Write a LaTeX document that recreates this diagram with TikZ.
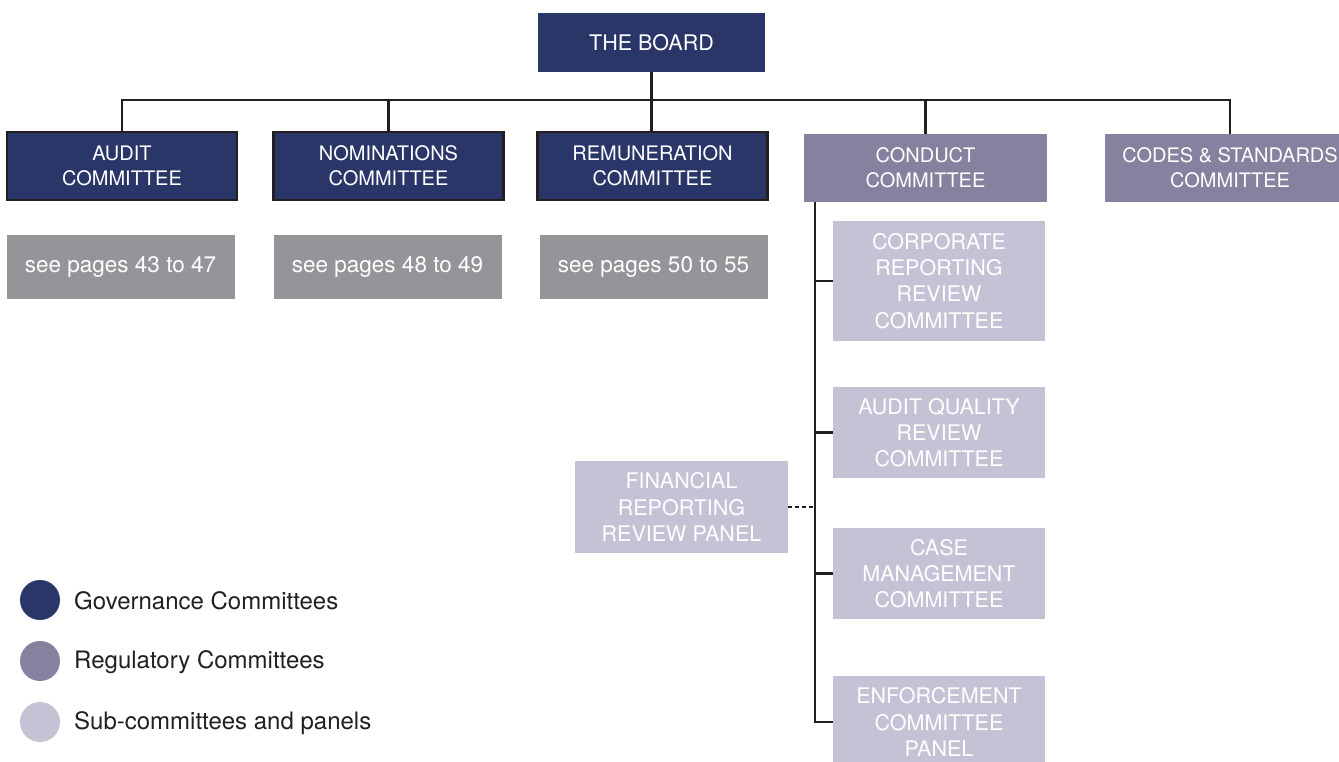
\documentclass[tikz,border=0pt]{standalone}
\usepackage{fontspec}
\setmainfont{TeX Gyre Heros}
\usetikzlibrary{calc}
\definecolor{govblue}{HTML}{2B3668}
\definecolor{regpurple}{HTML}{85819E}
\definecolor{sublilac}{HTML}{C5C2D5}
\definecolor{pagegrey}{HTML}{939598}
\definecolor{inkblack}{HTML}{231F20}
\tikzset{
	box/.style={text=white, align=center, inner sep=0pt, font=\fontsize{20}{25}\selectfont},
	gov/.style={box, fill=govblue, draw=inkblack, line width=2.2pt, minimum width=230, minimum height=68},
	reg/.style={box, fill=regpurple, minimum width=243, minimum height=68},
	sub/.style={box, fill=sublilac, minimum width=212, font=\fontsize{21.5}{26.3}\selectfont},
	pages/.style={box, fill=pagegrey, minimum width=228, minimum height=64, font=\fontsize{22.5}{26}\selectfont},
	link/.style={draw=inkblack, line width=2.4pt},
	key/.style={circle, minimum size=40, inner sep=0pt},
	keytext/.style={anchor=west, text=inkblack, inner sep=0pt, font=\fontsize{24}{28}\selectfont},
}

\begin{document}
\begin{tikzpicture}[x=1pt, y=-1pt]
	%%%%% START %%%%%
	\useasboundingbox (0,0) rectangle (1339,762);
	
	% top
	\node[box, fill=govblue, minimum width=227, minimum height=59, font=\fontsize{21.5}{25}\selectfont] (board) at (651.5,42.5) {THE BOARD};
	
	% committees
	\node[gov] (audit) at (122,166) {AUDIT\\COMMITTEE};
	\node[gov] (nominations) at (388.5,166) {NOMINATIONS\\COMMITTEE};
	\node[gov] (remuneration) at (652.5,166) {REMUNERATION\\COMMITTEE};
	\node[reg] (conduct) at (925.5,168) {CONDUCT\\COMMITTEE};
	\node[reg, minimum width=250] (codes) at (1230,168) {CODES \& STANDARDS\\COMMITTEE};
	
	\node[pages] (pagesA) at (120.5,267) {see pages 43 to 47};
	\node[pages] (pagesB) at (387.5,267) {see pages 48 to 49};
	\node[pages] (pagesC) at (653.5,267) {see pages 50 to 55};
	
	% sub-committees
	\node[sub, minimum height=120] (corporate) at (939,281) {CORPORATE\\REPORTING\\REVIEW\\COMMITTEE};
	\node[sub, minimum height=91] (quality) at (939,432.5) {AUDIT QUALITY\\REVIEW\\COMMITTEE};
	\node[sub, minimum height=92, minimum width=213] (financial) at (681.5,507) {FINANCIAL\\REPORTING\\REVIEW PANEL};
	\node[sub, minimum height=91] (casemgmt) at (939,573.5) {CASE\\MANAGEMENT\\COMMITTEE};
	\node[sub, minimum height=92] (enforcement) at (939,722) {ENFORCEMENT\\COMMITTEE\\PANEL};
	
	% lines
	\coordinate (bus) at (0,100);
	\coordinate (spine) at ($(conduct.south west)+(11,0)$);
	\draw[link] (board.south) -- (board.south |- remuneration.north);
	\draw[link] (audit.north) -- (audit.north |- bus) -| (codes.north);
	\draw[link] (nominations.north) -- (nominations.north |- bus);
	\draw[link] (conduct.north) -- (conduct.north |- bus);
	\draw[link] (spine) |- (enforcement.west);
	\draw[link] (spine |- corporate.west) -- (corporate.west);
	\draw[link] (spine |- quality.west) -- (quality.west);
	\draw[link] (spine |- casemgmt.west) -- (casemgmt.west);
	\draw[link, dash pattern=on 4pt off 3pt] (financial.east) -- (spine |- financial.east);
	
	% legend
	\node[key, fill=govblue] (keyA) at (40,600) {};
	\node[key, fill=regpurple] (keyB) at (40,661) {};
	\node[key, fill=sublilac] (keyC) at (40,722) {};
	\node[keytext] at (74,601) {Governance Committees};
	\node[keytext] at (74,662) {Regulatory Committees};
	\node[keytext] at (74,723) {Sub-committees and panels};
	
	%%%%% END %%%%%
\end{tikzpicture}
\end{document}
